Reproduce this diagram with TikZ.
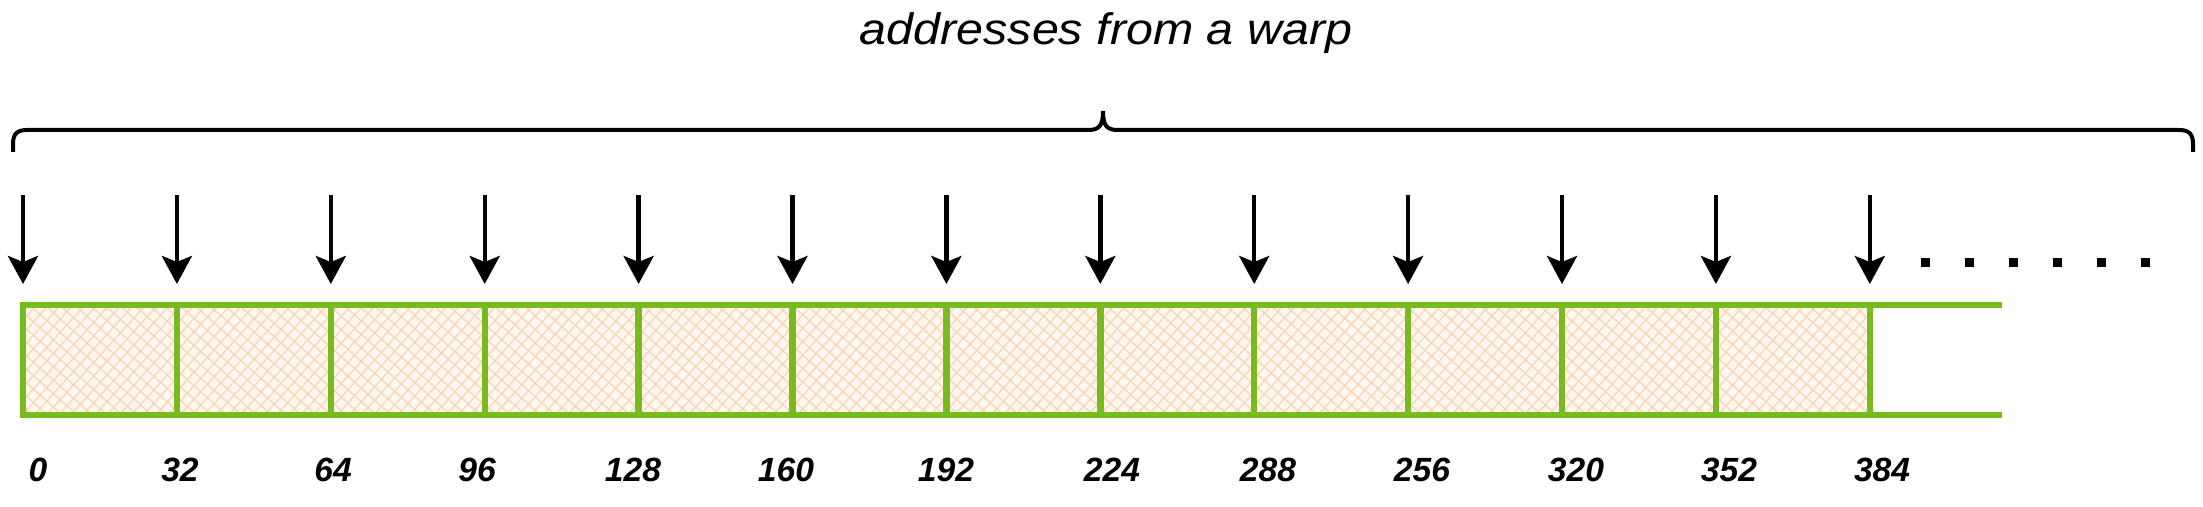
\documentclass[tikz,border=0pt]{standalone}
\usepackage{fontspec}
\setmainfont{Liberation Sans}
\usetikzlibrary{arrows.meta,patterns.meta}
\definecolor{cellgreen}{RGB}{118,188,30}
\definecolor{cellfill}{RGB}{255,247,240}
\definecolor{hatch}{RGB}{250,208,170}
\tikzset{
  cellbox/.style={draw=cellgreen, line width=3.2pt, inner sep=0pt, outer sep=0pt,
    minimum width=76.95pt, minimum height=55pt,
    preaction={fill=cellfill},
    preaction={pattern={Lines[angle=48,distance=4.5pt,line width=0.55pt]}, pattern color=hatch},
    preaction={pattern={Lines[angle=-42,distance=5pt,line width=0.55pt]}, pattern color=hatch}},
  openline/.style={draw=cellgreen, line width=3.2pt},
  addrarrow/.style={draw=black, line width=2.2pt, -{Stealth[length=14pt,width=15pt,inset=3pt]}},
  bracestyle/.style={draw=black, line width=2pt},
  numlabel/.style={font=\fontsize{16.8pt}{20pt}\selectfont\bfseries\itshape, inner sep=0pt, anchor=center},
  titlelabel/.style={font=\fontsize{22pt}{26pt}\selectfont\itshape, inner sep=0pt, anchor=base, xscale=1.1},
  dotsq/.style={fill=black, minimum size=4.5pt, inner sep=0pt, draw=none}
}
\begin{document}
\begin{tikzpicture}[x=0.5pt,y=-0.5pt]
\useasboundingbox (0,0) rectangle (2203,507);
% title
\node[titlelabel] (title) at (1106,45) {addresses from a warp};
% brace
\draw[bracestyle] (13,152) -- (13,144) .. controls (13,134) and (17,130) .. (27,130)
  -- (1088,130) .. controls (1099,130) and (1103,126) .. (1103,111)
  .. controls (1103,126) and (1107,130) .. (1118,130)
  -- (2179,130) .. controls (2189,130) and (2193,134) .. (2193,144) -- (2193,152);
% cells
\foreach \i in {0,...,11} {
  \node[cellbox] (cell\i) at ({23+153.9*(\i+0.5)},360) {};
}
% open end lines
\coordinate (openT) at (2002,305);
\coordinate (openB) at (2002,415);
\draw[openline] (cell11.north east) -- (cell11.north east -| openT);
\draw[openline] (cell11.south east) -- (cell11.south east -| openB);
% arrows
\foreach \i in {0,...,12} {
  \coordinate (atop\i) at ({23+153.9*\i},195);
  \coordinate (atip\i) at ({23+153.9*\i},284);
  \draw[addrarrow] (atop\i) -- (atip\i);
}
% dots
\foreach \j [count=\k] in {1925,1969,2013,2057,2101,2145} {
  \node[dotsq] (dot\k) at (\j,263) {};
}
% labels
\foreach \x/\t [count=\k] in {38/0,180/32,333/64,477/96,633/128,786/160,946/192,1112/224,1268/288,1422/256,1576/320,1729/352,1882/384} {
  \node[numlabel] (lab\k) at (\x,470) {\t};
}
\end{tikzpicture}
\end{document}
